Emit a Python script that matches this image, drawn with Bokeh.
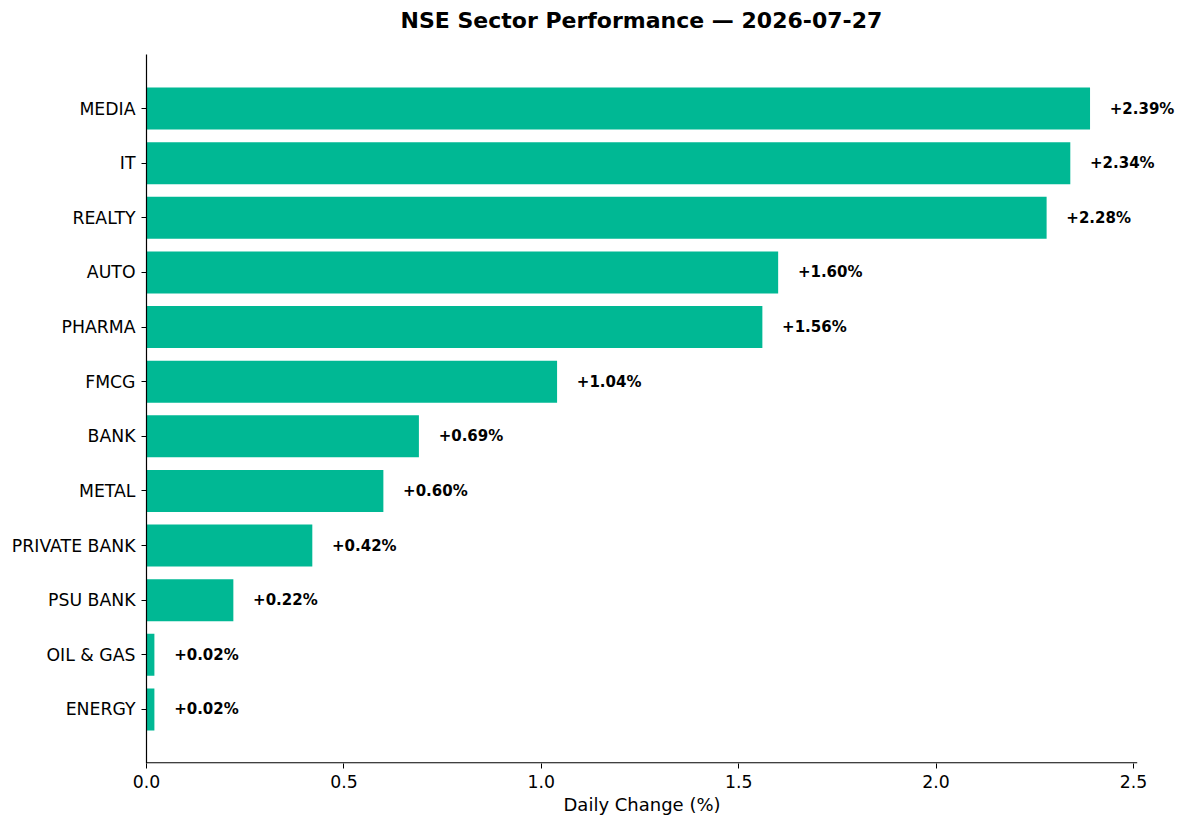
from bokeh.plotting import figure
from bokeh.models import (ColumnDataSource, FixedTicker, PrintfTickFormatter, Range1d,
                          LabelSet, Title)
from bokeh.core.properties import value
from bokeh.embed import file_html
from bokeh.resources import INLINE

sectors = ["ENERGY", "OIL & GAS", "PSU BANK", "PRIVATE BANK", "METAL", "BANK",
           "FMCG", "PHARMA", "AUTO", "REALTY", "IT", "MEDIA"]
changes = [0.02, 0.02, 0.22, 0.42, 0.60, 0.69, 1.04, 1.56, 1.60, 2.28, 2.34, 2.39]
x_ticks = [0.0, 0.5, 1.0, 1.5, 2.0, 2.5]

ypos = list(range(len(sectors)))
labels = [f"{v:+.2f}%" for v in changes]
label_x = [v + 0.05 for v in changes]
x_axis_end = max(changes) * 1.05   # visible axis extent
x_view_end = 2.609                 # room for the value labels
y_start, y_end = -0.99, len(sectors) - 0.01

src = ColumnDataSource(dict(y=ypos, v=changes, lx=label_x, lab=labels))

FONT = "DejaVu Sans"
p = figure(width=1176, height=820, output_backend="svg", toolbar_location=None,
           x_range=Range1d(0, x_view_end), y_range=Range1d(y_start, y_end),
           min_border_left=146, min_border_right=0, min_border_top=54, min_border_bottom=57)
p.title.text = "NSE Sector Performance — 2026-07-27"
p.title.text_font = FONT
p.title.text_font_size = "22px"
p.title.text_font_style = "bold"
p.title.text_color = "black"
p.title.align = "left"
p.title.offset = 254
p.title.standoff = 10

# empty spacer between the title and the plot area
spacer = Title(text=" ", text_font_size="1px", standoff=14)
p.add_layout(spacer, "above")

p.hbar(y="y", right="v", left=0, height=0.77, source=src, fill_color="#00b894",
       line_color=None)
p.add_layout(LabelSet(x="lx", y="y", text="lab", source=src, text_font=value(FONT),
                      text_font_size="15px", text_font_style="bold",
                      text_baseline="middle", text_align="left", text_color="black"))
# x axis line limited to the data extent
p.line(x=[0, x_axis_end], y=[y_start + 0.011, y_start + 0.011], line_color="black",
       line_width=1.2)

p.outline_line_color = None
p.xgrid.grid_line_color = None
p.ygrid.grid_line_color = None

xa = p.xaxis[0]
xa.ticker = FixedTicker(ticks=x_ticks)
xa.formatter = PrintfTickFormatter(format="%.1f")
xa.axis_line_color = None
ya = p.yaxis[0]
ya.ticker = FixedTicker(ticks=ypos)
ya.major_label_overrides = {i: s for i, s in zip(ypos, sectors)}
ya.axis_line_color = "black"
ya.axis_line_width = 1.2
for ax in (xa, ya):
    ax.major_tick_line_color = "black"
    ax.major_tick_out = 5
    ax.major_tick_in = 0
    ax.minor_tick_line_color = None
    ax.major_label_text_font = FONT
    ax.major_label_text_font_size = "17.3px"
    ax.major_label_text_color = "black"
xa.major_label_standoff = 6
ya.major_label_standoff = 6

xlab = Title(text="Daily Change (%)", align="left", offset=417, text_font=FONT,
             text_font_size="18px", text_font_style="normal", text_color="black",
             standoff=2)
p.add_layout(xlab, "below")

open("out.html", "w").write(file_html(p, INLINE))
